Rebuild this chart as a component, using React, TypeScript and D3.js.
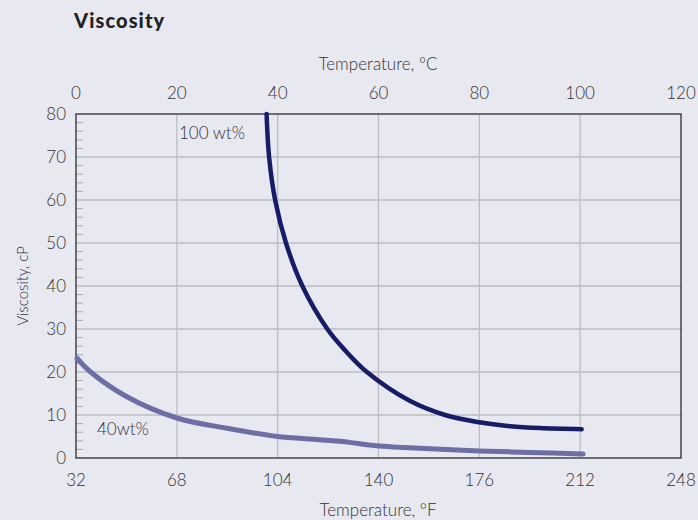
import React from "react";
import * as d3 from "d3";

const cTicks = [0, 20, 40, 60, 80, 100, 120];
const fTicks = [32, 68, 104, 140, 176, 212, 248];
const yTicks = [0, 10, 20, 30, 40, 50, 60, 70, 80];
const yMinor = [2, 4, 6, 8, 12, 14, 16, 18, 22, 24, 26, 28, 32, 34, 36, 38, 42, 44, 46, 48, 52, 54, 56, 58, 62, 64, 66, 68, 72, 74, 76, 78];

const t100 = [37.8, 38.3, 39.5, 41.65, 44.9, 49.85, 53.4, 57.7, 66.2, 73.2, 80, 86.1, 92, 100.3];
const v100 = [80, 70, 60, 50, 40, 30, 25, 20, 13.3, 10, 8.3, 7.4, 6.95, 6.7];

const t40 = [0.2, 2.9, 10, 20, 30, 40, 44.4, 52.4, 56, 60.2, 65, 80, 90, 100.6];
const v40 = [23.2, 20, 14.3, 9.3, 6.9, 5.0, 4.6, 3.9, 3.35, 2.8, 2.45, 1.65, 1.3, 0.93];

const W = 698;
const H = 520;
const L = 76, R = 681, T = 114, B = 458;
const FONT = "Lato, 'Open Sans', sans-serif";
const TXT = "#333333";
const FS = 17;

export default function App() {
  const x = d3.scaleLinear().domain([0, 120]).range([L, R]);
  const y = d3.scaleLinear().domain([0, 80]).range([B, T]);
  const line = d3
    .line<[number, number]>()
    .x((d) => x(d[0]))
    .y((d) => y(d[1]))
    .curve(d3.curveCatmullRom.alpha(0.5));
  const d100 = line(t100.map((t, i) => [t, v100[i]] as [number, number])) || "";
  const d40 = line(t40.map((t, i) => [t, v40[i]] as [number, number])) || "";

  return (
    <svg
      width={W}
      height={H}
      style={{ position: "absolute", left: 0, top: 0, background: "#e8e8f1" }}
      fontFamily={FONT}
    >
      <rect x={0} y={0} width={W} height={H} fill="#e8e8f1" />
      <text x={74} y={28} fontSize={20} fontWeight={900} fill="#222" letterSpacing={1.1}>
        Viscosity
      </text>
      {/* grid */}
      {cTicks.slice(1, -1).map((c) => (
        <line key={"gx" + c} x1={x(c)} x2={x(c)} y1={T} y2={B} stroke="#bdbdc2" strokeWidth={1.3} />
      ))}
      {yTicks.slice(1, -1).map((v) => (
        <line key={"gy" + v} x1={L} x2={R} y1={y(v)} y2={y(v)} stroke="#bdbdc2" strokeWidth={1.3} />
      ))}
      {yMinor.map((v) => (
        <line key={"m" + v} x1={L} x2={L + 7} y1={y(v)} y2={y(v)} stroke="#a8a8ae" strokeWidth={1} />
      ))}
      {/* frame */}
      <rect x={L} y={T} width={R - L} height={B - T} fill="none" stroke="#3a3a3e" strokeWidth={1.4} />
      {/* curves */}
      <path d={d40} fill="none" stroke="#6e6ea6" strokeWidth={5} strokeLinecap="round" />
      <path d={d100} fill="none" stroke="#161d66" strokeWidth={4.5} strokeLinecap="round" />
      {/* top axis labels */}
      {cTicks.map((c) => (
        <text key={"c" + c} x={x(c)} y={99} fontSize={FS} textAnchor="middle" fill={TXT} fontWeight={300}>
          {c}
        </text>
      ))}
      <text x={378} y={70} fontSize={FS} textAnchor="middle" fill={TXT} fontWeight={300}>
        Temperature, °C
      </text>
      {/* bottom axis labels */}
      {fTicks.map((f, i) => (
        <text key={"f" + f} x={x(cTicks[i])} y={486} fontSize={FS} textAnchor="middle" fill={TXT} fontWeight={300}>
          {f}
        </text>
      ))}
      <text x={378} y={516} fontSize={FS} textAnchor="middle" fill={TXT} fontWeight={300}>
        Temperature, °F
      </text>
      {/* left axis labels */}
      {yTicks.map((v) => (
        <text key={"y" + v} x={66} y={y(v) + 6} fontSize={FS} textAnchor="end" fill={TXT} fontWeight={300}>
          {v}
        </text>
      ))}
      <text
        transform={`translate(28,${(T + B) / 2}) rotate(-90)`}
        fontSize={15}
        textAnchor="middle"
        fill={TXT}
        fontWeight={300}
      >
        Viscosity, cP
      </text>
      <text x={179} y={139} fontSize={FS} fill={TXT} fontWeight={300}>
        100 wt%
      </text>
      <text x={97} y={435} fontSize={FS} fill={TXT} fontWeight={300}>
        40wt%
      </text>
    </svg>
  );
}
